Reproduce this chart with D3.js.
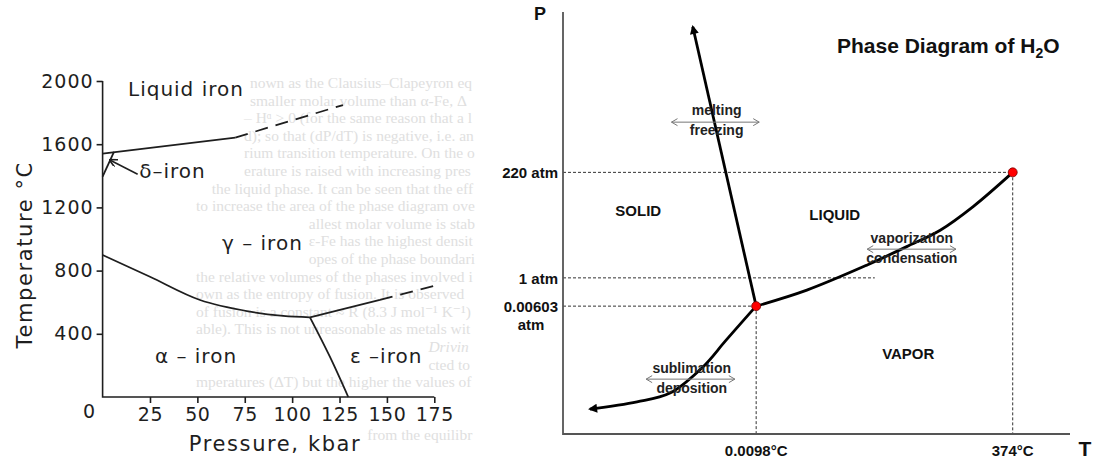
<!DOCTYPE html>
<html>
<head>
<meta charset="utf-8">
<script src="https://cdn.jsdelivr.net/npm/d3@7"></script>
<style>
  html, body { margin: 0; padding: 0; background: #fff; }
  svg { display: block; }
</style>
</head>
<body>
<svg id="chart" width="1112" height="465"></svg>
<script>
// ---- left: iron (scanned textbook figure) ----
const FE_P_TICKS = [25, 50, 75, 100, 125, 150, 175];
const FE_T_TICKS = [400, 800, 1200, 1600, 2000];
const FE_LIQUID = [[0, 1540], [70, 1642]];
const FE_LIQUID_DASH = [[70, 1642], [126.8, 1848]];
const FE_DELTA_GAMMA = [[0, 1394], [6, 1552]];
const FE_DELTA_POINTER = [[18.5, 1410], [3.8, 1500]];
const FE_GAMMA_ALPHA = [[0, 899], [25, 761], [51.4, 614], [77.8, 540], [95.3, 513], [109.4, 504]];
const FE_GAMMA_EPS = [[109.4, 504], [146.3, 614]];
const FE_GAMMA_EPS_DASH = [[146.3, 614], [175.3, 704]];
const FE_ALPHA_EPS = [[109.4, 504], [119.9, 255], [129.6, 0]];
const FE_LABELS = [
  { text: 'Liquid iron', p: 13.4, t: 1905 },
  { text: 'δ–iron', p: 19.3, t: 1386 },
  { text: 'γ – iron', p: 63, t: 930 },
  { text: 'α – iron', p: 27.6, t: 215 },
  { text: 'ε –iron', p: 130.5, t: 215 },
];

// faint print-through from the other side of the page
const GHOST_LINES = [
  'nown as the Clausius–Clapeyron equation. Since close-packed',
  'smaller molar volume than α-Fe, ΔV = Vᵞ – Vᵅ < 0',
  '– Hᵅ > 0 (for the same reason that a liquid has a higher',
  'd); so that (dP/dT) is negative, i.e. an increase in pressure',
  'rium transition temperature. On the other hand the δ/L',
  'erature is raised with increasing pressure due to the larger',
  'the liquid phase. It can be seen that the effect of',
  'to increase the area of the phase diagram over which the',
  'allest molar volume is stable (γ-Fe in Fig. 1.4). It have',
  'ε-Fe has the highest density of the three allotropes,',
  'opes of the phase boundaries in the Fe phase diagram',
  'the relative volumes of the phases involved in each',
  'own as the entropy of fusion. It is observed',
  'of fusion is a constant ≈ R (8.3 J mol⁻¹ K⁻¹)',
  'able). This is not unreasonable as metals with',
  'Driving Force for Solidification',
  'cted to have high values for both L and Tm.',
  'mperatures (ΔT) but the higher the values of the',
  'with phase transformations we are often concerned',
  'in free energy between two phases at temperatures away',
  'from the equilibrium transition temperature.',
];

// ---- right: H2O (schematic units, 0-100 on both axes) ----
const H2O_TRIPLE = [38.1, 30.3];
const H2O_CRITICAL = [88.7, 62.0];
const H2O_MELT = [[38.1, 30.3], [25.6, 96.5]];
const H2O_SUBLIM = [[38.1, 30.3], [36.9, 28.7], [32, 22], [27.6, 15.9], [21.1, 9.7], [14.6, 7.6], [5.3, 5.9]];
const H2O_VAPOR = [[38.1, 30.3], [48.1, 34.1], [59.9, 40.0], [67.8, 44.4], [74.4, 48.3], [80.9, 53.9], [88.7, 62.0]];
const H2O_P_LEVELS = [
  { label: ['220 atm'], y: 62.0, x2: 88.7 },
  { label: ['1 atm'], y: 37.0, x2: 61.5 },
  { label: ['0.00603', 'atm'], y: 30.3, x2: 38.1 },
];
const H2O_T_LEVELS = [
  { label: '0.0098°C', x: 38.1, y2: 30.3 },
  { label: '374°C', x: 88.7, y2: 62.0 },
];
const H2O_REGIONS = [
  { text: 'SOLID', x: 14.85, y: 51.7 },
  { text: 'LIQUID', x: 53.6, y: 50.7 },
  { text: 'VAPOR', x: 68.1, y: 17.7 },
];
const H2O_TRANSITIONS = [
  { top: 'melting', bottom: 'freezing', x: 30.3, yTop: 75.6, yBot: 70.85, ya: 73.9, x1: 21.4, x2: 38.7 },
  { top: 'sublimation', bottom: 'deposition', x: 25.4, yTop: 14.5, yBot: 9.7, ya: 13.0, x1: 16.4, x2: 33.9 },
  { top: 'vaporization', bottom: 'condensation', x: 68.8, yTop: 45.3, yBot: 40.45, ya: 43.8, x1: 60.0, x2: 77.5 },
];

const svg = d3.select('#chart');

const SCAN_FONT = '"DejaVu Sans", Verdana, sans-serif';
const SLIDE_FONT = '"Liberation Sans", Arial, Helvetica, sans-serif';
const INK = '#1e1e1e';
const SCAN_RIGHT = 476;

// ================= iron =================
const fx = d3.scaleLinear().domain([0, 175]).range([102.6, 434.3]);
const fy = d3.scaleLinear().domain([0, 2000]).range([397, 81]);

// ghost layer sits behind the figure, filled in once the labels exist
const ghost = svg.append('g');
const fe = svg.append('g');

// axes
fe.append('path')
  .attr('d', `M${fx(0)},${fy(2000)}V${fy(0)}H${fx(175)}`)
  .attr('fill', 'none').attr('stroke', INK).attr('stroke-width', 1.6);

const feXAxis = d3.axisBottom(fx).tickValues(FE_P_TICKS).tickSize(6).tickPadding(5).tickFormat(d3.format('d'));
fe.append('g')
  .attr('transform', `translate(0,${fy(0)})`)
  .call(feXAxis)
  .call(g => g.select('.domain').remove())
  .call(g => g.selectAll('line').attr('stroke', INK).attr('stroke-width', 1.6))
  .call(g => g.selectAll('text')
    .attr('fill', INK).attr('font-family', SCAN_FONT).attr('font-size', '19px')
    .attr('letter-spacing', '0.6px'));

const feYAxis = d3.axisLeft(fy).tickValues(FE_T_TICKS).tickSize(6).tickPadding(3).tickFormat(d3.format('d'));
fe.append('g')
  .attr('transform', `translate(${fx(0)},0)`)
  .call(feYAxis)
  .call(g => g.select('.domain').remove())
  .call(g => g.selectAll('line').attr('stroke', INK).attr('stroke-width', 1.6))
  .call(g => g.selectAll('text')
    .attr('fill', INK).attr('font-family', SCAN_FONT).attr('font-size', '19px')
    .attr('letter-spacing', '1px'));

fe.append('text')
  .attr('x', 89).attr('y', 418)
  .attr('text-anchor', 'middle')
  .attr('fill', INK).attr('font-family', SCAN_FONT).attr('font-size', '19px')
  .text('0');

fe.append('text')
  .attr('x', fx(91)).attr('y', 451)
  .attr('text-anchor', 'middle')
  .attr('fill', INK).attr('font-family', SCAN_FONT).attr('font-size', '21px')
  .attr('letter-spacing', '1.6px')
  .text('Pressure, kbar');

fe.append('text')
  .attr('transform', `translate(32,${fy(900)}) rotate(-90)`)
  .attr('text-anchor', 'middle')
  .attr('fill', INK).attr('font-family', SCAN_FONT).attr('font-size', '21px')
  .attr('letter-spacing', '1.6px')
  .text('Temperature °C');

// phase boundaries
const feLine = d3.line().x(d => fx(d[0])).y(d => fy(d[1]));
const feCurve = d3.line().x(d => fx(d[0])).y(d => fy(d[1])).curve(d3.curveCatmullRom.alpha(0.5));

const boundaries = [
  { data: FE_LIQUID, gen: feLine },
  { data: FE_LIQUID_DASH, gen: feLine, dash: '13,8' },
  { data: FE_DELTA_GAMMA, gen: feLine },
  { data: FE_GAMMA_ALPHA, gen: feCurve },
  { data: FE_GAMMA_EPS, gen: feLine },
  { data: FE_GAMMA_EPS_DASH, gen: feLine, dash: '13,8' },
  { data: FE_ALPHA_EPS, gen: feCurve },
];
boundaries.forEach(b => {
  fe.append('path')
    .attr('d', b.gen(b.data))
    .attr('fill', 'none')
    .attr('stroke', INK)
    .attr('stroke-width', 1.8)
    .attr('stroke-dasharray', b.dash || null);
});

// pointer to the delta field
svg.append('defs').append('marker')
  .attr('id', 'fe-head')
  .attr('viewBox', '0 0 10 10').attr('refX', 9).attr('refY', 5)
  .attr('markerWidth', 8).attr('markerHeight', 8)
  .attr('markerUnits', 'userSpaceOnUse')
  .attr('orient', 'auto')
  .append('path').attr('d', 'M0,0L10,5L0,10').attr('fill', 'none').attr('stroke', INK).attr('stroke-width', 2);

fe.append('path')
  .attr('d', feLine(FE_DELTA_POINTER))
  .attr('fill', 'none').attr('stroke', INK).attr('stroke-width', 1.5)
  .attr('marker-end', 'url(#fe-head)');

fe.selectAll('.fe-label')
  .data(FE_LABELS)
  .join('text')
  .attr('class', 'fe-label')
  .attr('x', d => fx(d.p))
  .attr('y', d => fy(d.t))
  .attr('fill', INK).attr('font-family', SCAN_FONT).attr('font-size', '20px')
  .attr('letter-spacing', '1px')
  .text(d => d.text);

// ghost lines: start past any figure text on the same row, stop at the scan edge
const boxes = [];
fe.selectAll('text').each(function() { boxes.push(this.getBoundingClientRect()); });

GHOST_LINES.forEach((line, i) => {
  const y = 88 + i * 17.6;
  let x0 = i < 6 ? 244 : 196;
  boxes.forEach(b => {
    if (b.top < y + 4 && b.bottom > y - 12 && b.right > x0 - 4 && b.left < SCAN_RIGHT) {
      x0 = Math.max(x0, b.right + 6);
    }
  });
  if (SCAN_RIGHT - x0 < 40) return;

  const t = ghost.append('text')
    .attr('x', x0)
    .attr('y', y)
    .attr('font-family', '"Liberation Serif", "DejaVu Serif", serif')
    .attr('font-size', '15.5px')
    .attr('font-style', line.startsWith('Driving') ? 'italic' : 'normal')
    .attr('fill', '#e0e0e0')
    .text(line);

  let s = line;
  while (s.length > 2 && x0 + t.node().getComputedTextLength() > SCAN_RIGHT) {
    s = s.slice(0, -1);
    t.text(s);
  }
});

// ================= H2O =================
const wx = d3.scaleLinear().domain([0, 100]).range([563, 1070]);
const wy = d3.scaleLinear().domain([0, 100]).range([434, 12]);
const w = svg.append('g');

// reference levels
H2O_P_LEVELS.forEach(d => {
  w.append('line')
    .attr('x1', wx(0)).attr('x2', wx(d.x2))
    .attr('y1', wy(d.y)).attr('y2', wy(d.y))
    .attr('stroke', '#333').attr('stroke-width', 1).attr('stroke-dasharray', '3,2');
  d.label.forEach((s, i) => {
    w.append('text')
      .attr('x', i === 0 ? wx(0) - 5 : wx(0) - 32)
      .attr('y', wy(d.y) + 6 + i * 18)
      .attr('text-anchor', i === 0 ? 'end' : 'middle')
      .attr('font-family', SLIDE_FONT).attr('font-weight', 'bold').attr('font-size', '15px')
      .attr('fill', '#111')
      .text(s);
  });
});

H2O_T_LEVELS.forEach(d => {
  w.append('line')
    .attr('x1', wx(d.x)).attr('x2', wx(d.x))
    .attr('y1', wy(d.y2)).attr('y2', wy(0))
    .attr('stroke', '#333').attr('stroke-width', 1).attr('stroke-dasharray', '3,2');
  w.append('text')
    .attr('x', wx(d.x)).attr('y', 456)
    .attr('text-anchor', 'middle')
    .attr('font-family', SLIDE_FONT).attr('font-weight', 'bold').attr('font-size', '15px')
    .attr('fill', '#111')
    .text(d.label);
});

// axes
w.append('path')
  .attr('d', `M${wx(0)},${wy(100)}V${wy(0)}H${wx(100)}`)
  .attr('fill', 'none').attr('stroke', '#555').attr('stroke-width', 1.8);

w.append('text')
  .attr('x', 540).attr('y', 20)
  .attr('text-anchor', 'middle')
  .attr('font-family', SLIDE_FONT).attr('font-weight', 'bold').attr('font-size', '18px')
  .attr('fill', '#111').text('P');

w.append('text')
  .attr('x', 1085).attr('y', 456)
  .attr('text-anchor', 'middle')
  .attr('font-family', SLIDE_FONT).attr('font-weight', 'bold').attr('font-size', '21px')
  .attr('fill', '#111').text('T');

const title = w.append('text')
  .attr('x', 837).attr('y', 53)
  .attr('font-family', SLIDE_FONT).attr('font-weight', 'bold').attr('font-size', '21px')
  .attr('fill', '#111');
title.append('tspan').text('Phase Diagram of H');
title.append('tspan').attr('font-size', '14px').attr('dy', 5).text('2');
title.append('tspan').attr('dy', -5).text('O');

// phase curves
const defs = svg.select('defs');
defs.append('marker')
  .attr('id', 'w-head')
  .attr('viewBox', '0 0 10 10').attr('refX', 8).attr('refY', 5)
  .attr('markerWidth', 11).attr('markerHeight', 9)
  .attr('markerUnits', 'userSpaceOnUse')
  .attr('orient', 'auto')
  .append('path').attr('d', 'M0,0L10,5L0,10Z').attr('fill', '#000');

const wCurve = d3.line().x(d => wx(d[0])).y(d => wy(d[1])).curve(d3.curveCatmullRom.alpha(0.5));

[H2O_MELT, H2O_SUBLIM, H2O_VAPOR].forEach((data, i) => {
  w.append('path')
    .attr('d', wCurve(data))
    .attr('fill', 'none')
    .attr('stroke', '#000')
    .attr('stroke-width', 2.8)
    .attr('marker-end', i < 2 ? 'url(#w-head)' : null);
});

// transition annotations
H2O_TRANSITIONS.forEach(d => {
  const y = wy(d.ya), a = wx(d.x1), b = wx(d.x2);
  w.append('path')
    .attr('d', `M${a},${y}H${b}M${a + 6},${y - 3.5}L${a},${y}L${a + 6},${y + 3.5}M${b - 6},${y - 3.5}L${b},${y}L${b - 6},${y + 3.5}`)
    .attr('fill', 'none').attr('stroke', '#777').attr('stroke-width', 1);
  [[d.top, d.yTop], [d.bottom, d.yBot]].forEach(([s, v]) => {
    w.append('text')
      .attr('x', wx(d.x)).attr('y', wy(v))
      .attr('text-anchor', 'middle')
      .attr('font-family', SLIDE_FONT).attr('font-weight', 'bold').attr('font-size', '14px')
      .attr('fill', '#222')
      .text(s);
  });
});

// region names
w.selectAll('.region')
  .data(H2O_REGIONS)
  .join('text')
  .attr('class', 'region')
  .attr('x', d => wx(d.x)).attr('y', d => wy(d.y))
  .attr('text-anchor', 'middle')
  .attr('font-family', SLIDE_FONT).attr('font-weight', 'bold').attr('font-size', '15px')
  .attr('fill', '#111')
  .text(d => d.text);

// triple and critical points
w.selectAll('.pt')
  .data([H2O_TRIPLE, H2O_CRITICAL])
  .join('circle')
  .attr('class', 'pt')
  .attr('cx', d => wx(d[0])).attr('cy', d => wy(d[1]))
  .attr('r', 4.5)
  .attr('fill', '#f00').attr('stroke', '#700').attr('stroke-width', 0.8);
</script>
</body>
</html>
